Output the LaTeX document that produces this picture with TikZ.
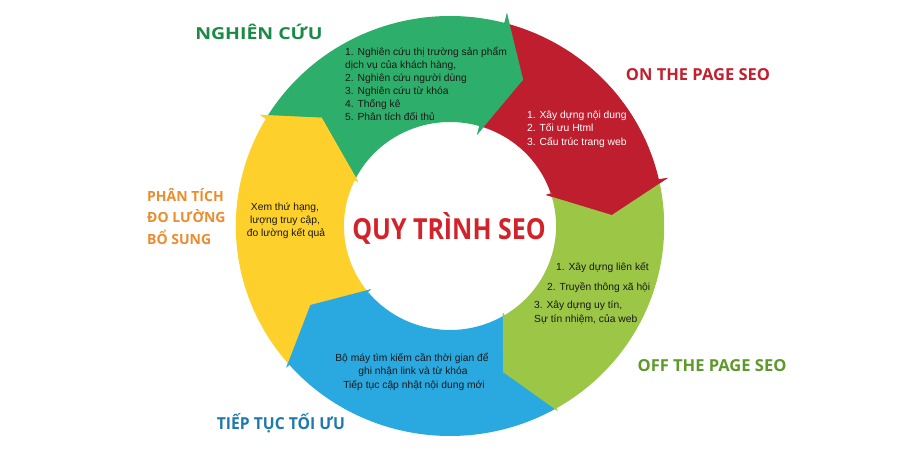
\documentclass[tikz,border=0pt]{standalone}
\usepackage{fontspec}
\setmainfont{Liberation Sans}
\newfontfamily\hfont{Open Sans}
\definecolor{cgreen}{HTML}{2DAE6A}
\definecolor{cred}{HTML}{BE1E2D}
\definecolor{clime}{HTML}{9CC646}
\definecolor{cblue}{HTML}{2AA9E0}
\definecolor{cyellow}{HTML}{FDD02B}
\definecolor{lgreen}{HTML}{1B8A45}
\definecolor{lred}{HTML}{C3202F}
\definecolor{llime}{HTML}{5E9A2B}
\definecolor{lblue}{HTML}{1E7AAE}
\definecolor{lorange}{HTML}{EB8C2E}
\definecolor{ctitle}{HTML}{D3222A}
\begin{document}
\begin{tikzpicture}[x=1pt,y=1pt,
  body/.style={inner sep=0pt, font=\fontsize{10.3}{13}\selectfont, text=black!90},
  lab/.style={inner sep=0pt, font=\hfont\bfseries\fontsize{16.5}{20}\selectfont},
  labs/.style={inner sep=0pt, font=\hfont\bfseries\fontsize{14}{18}\selectfont}]
\useasboundingbox (0,0) rectangle (900,450);
\fill[white] (0,0) rectangle (900,450);
\begin{scope}[shift={(450,224)}, xscale=1.02]
% bodies
\fill[cgreen] (149.2:210pt) arc[start angle=149.2,end angle=75.3,radius=210pt] -- (75.3:220pt) -- (63.9:163pt) -- (73.8:95pt) -- (73.8:104pt) arc[start angle=73.8,end angle=153.9,radius=104pt] -- (139.3:166pt) -- cycle;
\fill[cred] (75.3:210pt) arc[start angle=75.3,end angle=12.7,radius=210pt] -- (12.7:219pt) -- (4:159pt) -- (18.3:99pt) -- (18.3:104pt) arc[start angle=18.3,end angle=73.8,radius=104pt] -- (63.9:163pt) -- cycle;
\fill[clime] (12.7:210pt) arc[start angle=12.7,end angle=-60.3,radius=210pt] -- (-60.3:213pt) -- (-70.4:155pt) -- (-59.1:101pt) -- (-59.1:104pt) arc[start angle=-59.1,end angle=18.3,radius=104pt] -- (4:159pt) -- cycle;
\fill[cblue] (-60.3:210pt) arc[start angle=-60.3,end angle=-138.6,radius=210pt] -- (-138.6:214pt) -- (-150:158pt) -- (-140.8:100pt) -- (-140.8:104pt) arc[start angle=-140.8,end angle=-59.1,radius=104pt] -- (-70.4:155pt) -- cycle;
\fill[cyellow] (221.4:210pt) arc[start angle=221.4,end angle=149.2,radius=210pt] -- (149.2:217pt) -- (139.3:166pt) -- (153.9:100pt) -- (153.9:104pt) arc[start angle=153.9,end angle=219.2,radius=104pt] -- (210:158pt) -- cycle;
% arrow heads on top
\fill[cyellow] (149.2:217pt) -- (139.3:166pt) -- (153.9:100pt) -- cycle;
\fill[cgreen] (75.3:220pt) -- (63.9:163pt) -- (73.8:95pt) -- cycle;
\fill[cred] (12.7:219pt) -- (4:159pt) -- (18.3:99pt) -- cycle;
\fill[clime] (-60.3:213pt) -- (-70.4:155pt) -- (-59.1:101pt) -- cycle;
\fill[cblue] (-138.6:214pt) -- (-150:158pt) -- (-140.8:100pt) -- cycle;
\end{scope}

% title
\node[inner sep=0pt, anchor=base, text=ctitle, font=\hfont\bfseries\fontsize{29}{32}\selectfont, xscale=0.86] (title) at (449,210) {QUY TRÌNH SEO};

% labels
\node[lab, anchor=base, text=lgreen, xscale=1.18] (lNC) at (259,410) {NGHIÊN CỨU};
\node[lab, anchor=base, text=lred] (lON) at (698,369) {ON THE PAGE SEO};
\node[lab, anchor=base, text=llime] (lOFF) at (712,78) {OFF THE PAGE SEO};
\node[lab, anchor=base, text=lblue, xscale=0.95] (lTT) at (281,20) {TIẾP TỤC TỐI ƯU};
\node[labs, anchor=base west, text=lorange] (lPT1) at (147,248) {PHÂN TÍCH};
\node[labs, anchor=base west, text=lorange] (lPT2) at (147,227) {ĐO LƯỜNG};
\node[labs, anchor=base west, text=lorange] (lPT3) at (147,205) {BỔ SUNG};

% green list
\node[body, anchor=base west] (g1) at (345,394.5) {1. Nghiên cứu thị trường sản phẩm};
\node[body, anchor=base west] (g2) at (345,381.5) {dịch vụ của khách hàng,};
\node[body, anchor=base west] (g3) at (345,368.5) {2. Nghiên cứu người dùng};
\node[body, anchor=base west] (g4) at (345,355.5) {3. Nghiên cứu từ khóa};
\node[body, anchor=base west] (g5) at (345,342.5) {4. Thống kê};
\node[body, anchor=base west] (g6) at (345,329.5) {5. Phân tích đối thủ};

% red list
\node[body, anchor=base west, text=white] (r1) at (527,331.5) {1. Xây dựng nội dung};
\node[body, anchor=base west, text=white] (r2) at (527,318) {2. Tối ưu Html};
\node[body, anchor=base west, text=white] (r3) at (527,304.5) {3. Cấu trúc trang web};

% lime list
\node[body, anchor=base west] (m1) at (556,179.5) {1. Xây dựng liên kết};
\node[body, anchor=base west] (m2) at (547,159.5) {2. Truyền thông xã hội};
\node[body, anchor=base west] (m3) at (534,141.5) {3. Xây dựng uy tín,};
\node[body, anchor=base west] (m4) at (534,127.5) {Sự tín nhiệm, của web};

% blue list
\node[body, anchor=base] (b1) at (412,88.5) {Bộ máy tìm kiếm cần thời gian để};
\node[body, anchor=base] (b2) at (413,75) {ghi nhận link và từ khóa};
\node[body, anchor=base] (b3) at (414,61.5) {Tiếp tục cập nhật nội dung mới};

% yellow list
\node[body, anchor=base] (y1) at (285,239.5) {Xem thứ hạng,};
\node[body, anchor=base] (y2) at (285,226.5) {lượng truy cập,};
\node[body, anchor=base] (y3) at (286,213.5) {đo lường kết quả};
\end{tikzpicture}
\end{document}
